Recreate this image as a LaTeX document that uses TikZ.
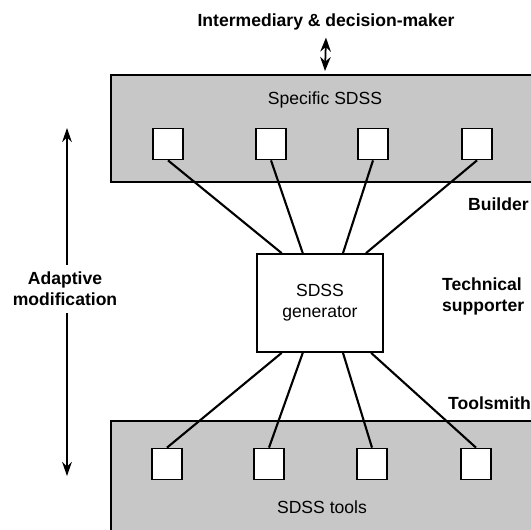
\documentclass[tikz,border=0pt]{standalone}
\usepackage{fontspec}
\setmainfont{Liberation Sans}
\usetikzlibrary{arrows.meta,calc}

\begin{document}
\begin{tikzpicture}[x=0.02cm,y=-0.02cm,every node/.style={font=\normalsize},
  band/.style={draw,line width=1pt,fill=black!22},
  unit/.style={draw,line width=1pt,fill=white,minimum width=0.6cm,minimum height=0.62cm,inner sep=0pt},
  role/.style={font=\normalsize\bfseries,inner sep=1pt},
  link/.style={line width=1.2pt},
  tip/.style={line width=0.9pt,-{Stealth[length=8pt,width=5.5pt]}}]
\useasboundingbox (0,0) rectangle (531,529); \clip (0,0) rectangle (531,529);
% the two layers
\draw[band] (111,75) rectangle (560,182); \node (spec) at (325,100) {Specific SDSS};
\draw[band] (111,421) rectangle (560,560); \node (tools) at (322,507) {SDSS tools};
\node[unit] (s1) at (168,144) {}; \node[unit] (s2) at (271,144) {}; \node[unit] (s3) at (373,144) {}; \node[unit] (s4) at (477,144) {};
\node[unit] (t1) at (167,464) {}; \node[unit] (t2) at (269,464) {}; \node[unit] (t3) at (372,464) {}; \node[unit] (t4) at (476,464) {};
\node[draw,line width=1pt,minimum width=2.52cm,minimum height=1.96cm,align=center] (gen) at (320,303) {SDSS\\generator};
\foreach \s/\f in {s1/0.2,s2/0.365,s3/0.68,s4/0.86} \draw[link] (\s.south) -- ($(gen.north west)!\f!(gen.north east)$);
\foreach \t/\f in {t1/0.2,t2/0.365,t3/0.68,t4/0.9} \draw[link] (\t.north) -- ($(gen.south west)!\f!(gen.south east)$);
% roles
\node[role] (im) at (326,22) {Intermediary \& decision-maker}; \coordinate (spectop) at (325,71);
\draw[line width=1pt,{Stealth[length=8pt,width=6pt]}-{Stealth[length=8pt,width=6pt]}] ([yshift=-3pt]im.south) -- (spectop);
\node[role,anchor=west] (build) at (466,204) {Builder};
\node[role,anchor=west,align=left] (tech) at (440,296) {Technical\\supporter};
\node[role,anchor=west] (smith) at (446,403) {Toolsmith};
\node[role,align=center,inner sep=4pt] (adapt) at (65,289) {Adaptive\\modification};
\coordinate (amtop) at (67,128); \coordinate (ambot) at (67,476);
\draw[tip] (adapt.north-|amtop) -- (amtop); \draw[tip] (adapt.south-|ambot) -- (ambot);
\end{tikzpicture}
\end{document}
